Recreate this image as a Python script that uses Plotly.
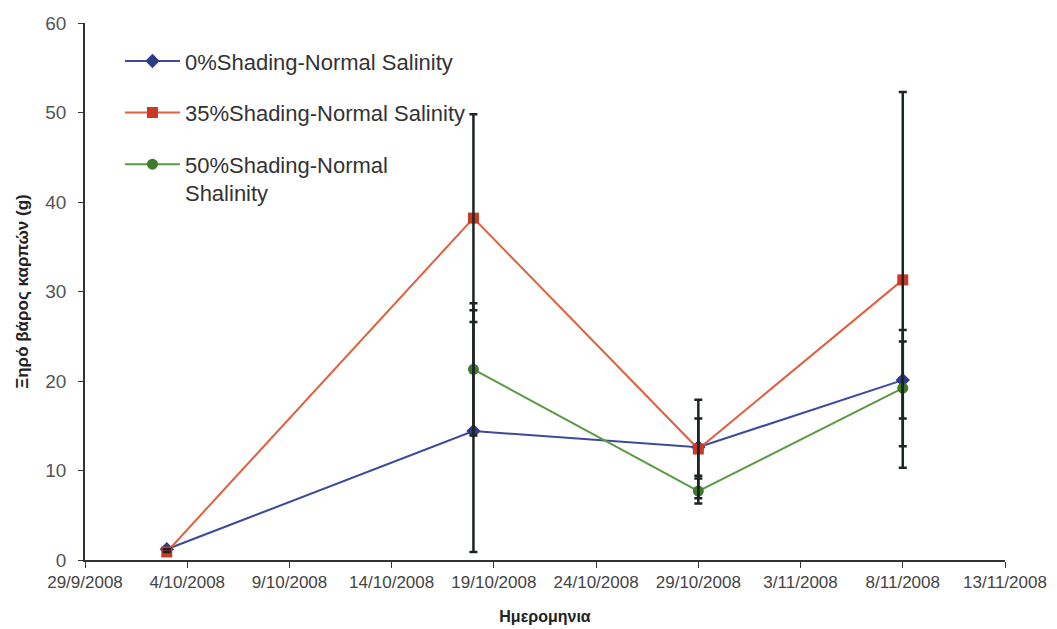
import plotly.graph_objects as go

dates = ["2008-10-03", "2008-10-18", "2008-10-29", "2008-11-08"]

s0_name = "0%Shading-Normal Salinity"
s0_vals = [1.2, 14.4, 12.6, 20.1]
s0_err = [0.0, 13.5, 3.2, 4.3]

s35_name = "35%Shading-Normal Salinity"
s35_vals = [0.9, 38.2, 12.4, 31.3]
s35_err = [0.0, 11.6, 5.5, 21.0]

s50_name = "50%Shading-Normal<br>Shalinity"
s50_vals = [None, 21.3, 7.7, 19.2]
s50_err = [0.0, 7.4, 1.4, 6.5]

x_range = ["2008-09-29", "2008-11-13"]
y_ticks = [0, 10, 20, 30, 40, 50, 60]

series = [
    (s0_name, s0_vals, s0_err, "#2E3A87", "#3B4A9A", "diamond", 11),
    (s35_name, s35_vals, s35_err, "#C83A24", "#E0603F", "square", 11),
    (s50_name, s50_vals, s50_err, "#3F7A2E", "#5A9A45", "circle", 11),
]

fig = go.Figure()
for i, (name, vals, err, mcol, lcol, sym, size) in enumerate(series):
    fig.add_trace(go.Scatter(
        x=dates, y=vals, name=name, mode="lines+markers",
        line=dict(color=lcol, width=2),
        marker=dict(color=mcol, symbol=sym, size=size),
        legendgroup=f"g{i}",
    ))
# error bars on top
for i, (name, vals, err, mcol, lcol, sym, size) in enumerate(series):
    fig.add_trace(go.Scatter(
        x=dates, y=vals, mode="markers", showlegend=False, hoverinfo="skip",
        marker=dict(color="rgba(0,0,0,0)", size=1),
        error_y=dict(type="data", array=err, visible=True, color="#1c2424",
                     thickness=2.5, width=4),
    ))

font_family = "Liberation Sans, Arial, sans-serif"
fig.update_layout(
    width=1057, height=629,
    margin=dict(l=85, r=52, t=23, b=69),
    paper_bgcolor="white", plot_bgcolor="white",
    font=dict(family=font_family, size=15, color="#444"),
    showlegend=True,
    legend=dict(
        x=0.038, y=0.968, xanchor="left", yanchor="top",
        font=dict(size=22, color="#333", family=font_family),
        bgcolor="rgba(0,0,0,0)", itemwidth=55, tracegroupgap=20,
        valign="top",
    ),
)
fig.update_xaxes(
    type="date", range=x_range, dtick=5 * 86400000, tick0="2008-09-29",
    tickformat="%-d/%-m/%Y", showgrid=False, zeroline=False,
    showline=True, linecolor="#333", linewidth=1.5,
    ticks="outside", ticklen=6, tickcolor="#333", tickangle=0, automargin=False,
    tickfont=dict(size=17, color="#444"),
    title=dict(text="<b>Ημερομηνια</b>", font=dict(size=16, color="#222"), standoff=20),
)
fig.update_yaxes(
    range=[0, 60], tickvals=y_ticks, showgrid=False, zeroline=False,
    showline=True, linecolor="#333", linewidth=1.5,
    ticks="outside", ticklen=5, tickcolor="#333", automargin=False,
    tickfont=dict(size=19, color="#555"), ticklabelstandoff=8,
    title=dict(text="<b>Ξηρό βάρος καρπών (g)</b>", font=dict(size=17, color="#222"), standoff=12),
)

fig.write_html("out.html")
